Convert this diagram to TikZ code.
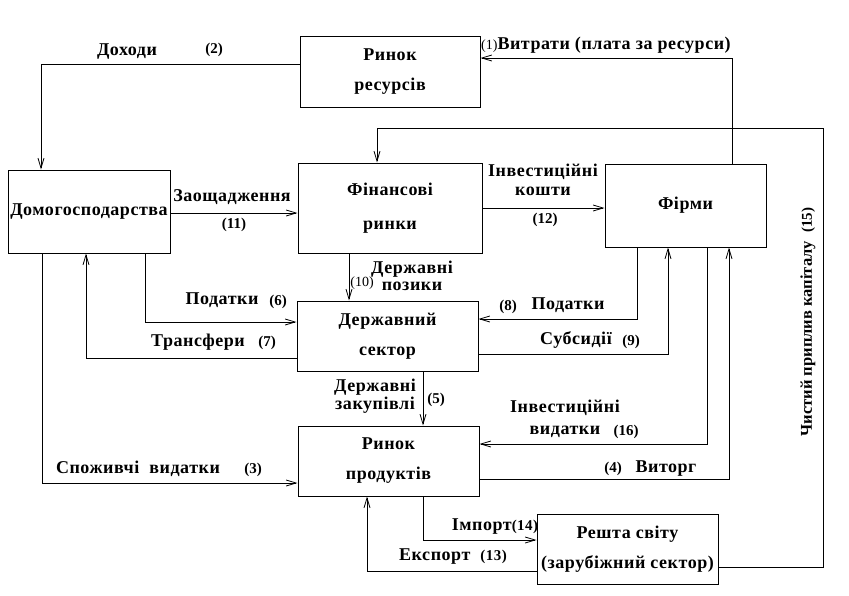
\documentclass[tikz,border=0pt]{standalone}
\usepackage{fontspec}
\setmainfont{Liberation Serif}
\usepackage{tikz}
\usetikzlibrary{positioning}
\usetikzlibrary{arrows.meta}

\tikzset{
	sector/.style = {draw, line width=1pt, align=center, inner sep=0pt,
	                 font=\bfseries\fontsize{18}{30}\selectfont\addfontfeatures{LetterSpace=3}},
	flow/.style   = {line width=1pt, -{Straight Barb[length=10pt, width=6pt, line width=0.8pt]}},
	lbl/.style    = {inner sep=0pt, align=center,
	                 font=\bfseries\fontsize{18}{22}\selectfont\addfontfeatures{LetterSpace=3}},
	num/.style    = {inner sep=0pt, font=\bfseries\fontsize{15}{17}\selectfont},
	thinnum/.style= {inner sep=0pt, font=\fontsize{14}{16}\selectfont}
}

\begin{document}
\begin{tikzpicture}[x=1pt, y=-1pt]
	\useasboundingbox (0,0) rectangle (849,595);

	% sectors
	\node (res)   [sector, minimum width=180pt, minimum height=71pt] at (390,71.5)   {Ринок\\ресурсів};
	\node (hh)    [sector, minimum width=162pt, minimum height=83pt] at (89,211.5)   {Домогосподарства};
	\node (fin)   [sector, minimum width=184pt, minimum height=90pt] at (390,208)    {Фінансові\\[4pt]ринки};
	\node (firms) [sector, minimum width=161pt, minimum height=83pt] at (685.5,205.5) {Фірми};
	\node (gov)   [sector, minimum width=181pt, minimum height=70pt] at (387.5,336)  {Державний\\сектор};
	\node (prod)  [sector, minimum width=181pt, minimum height=70pt] at (388.5,461)  {Ринок\\продуктів};
	\node (world) [sector, minimum width=181pt, minimum height=70pt] at (627.5,549)  {Решта світу\\(зарубіжний сектор)};

	% (1) vytraty
	\draw [flow] (firms.north -| 732,0) |- (res.east |- 0,58);
	\node (l1) [anchor=west, inner sep=0pt] at (481,45)
		{\fontsize{14}{16}\selectfont(1)\bfseries\fontsize{18}{20}\selectfont\addfontfeatures{LetterSpace=3}Витрати (плата за ресурси)};

	% (2) dokhody
	\draw [flow] (res.west |- 0,64) -| (hh.north -| 41,0);
	\node (l2) [lbl] at (127,52) {Доходи};
	\node (n2) [num] at (214,50) {(2)};

	% (3) spozhyvchi vydatky
	\draw [flow] (hh.south -| 42,0) |- (prod.west |- 0,483);
	\node (l3) [lbl] at (138,469) {Споживчі \ видатки};
	\node (n3) [num] at (253,470) {(3)};

	% (4) vytorh
	\draw [flow] (prod.east |- 0,479) -| (firms.south -| 729,0);
	\node (n4) [num] at (613,469) {(4)};
	\node (l4) [lbl] at (666,469) {Виторг};

	% (5) derzhavni zakupivli
	\draw [flow] (gov.south -| 423,0) -- (prod.north -| 423,0);
	\node (l5) [lbl] at (375,396) {Державні\\[-4pt]закупівлі};
	\node (n5) [num] at (436,400) {(5)};

	% (6) podatky
	\draw [flow] (hh.south -| 145,0) |- (gov.west |- 0,322);
	\node (l6) [lbl] at (222,300) {Податки};
	\node (n6) [num] at (278,302) {(6)};

	% (7) transfery
	\draw [flow] (gov.west |- 0,358) -| (hh.south -| 86,0);
	\node (l7) [lbl] at (198,342) {Трансфери};
	\node (n7) [num] at (267,343) {(7)};

	% (8) podatky
	\draw [flow] (firms.south -| 637,0) |- (gov.east |- 0,319);
	\node (n8) [num] at (508,307) {(8)};
	\node (l8) [lbl] at (568,305) {Податки};

	% (9) subsydii
	\draw [flow] (gov.east |- 0,354) -| (firms.south -| 668,0);
	\node (l9) [lbl] at (576,340) {Субсидії};
	\node (n9) [num] at (631,342) {(9)};

	% (10) derzhavni pozyky
	\draw [flow] (fin.south -| 349,0) -- (gov.north -| 349,0);
	\node (l10) [lbl] at (412,276) {Державні\\[-5pt]позики};
	\node (n10) [thinnum] at (362,283) {(10)};

	% (11) zaoshchadzhennia
	\draw [flow] (hh.east |- 0,213) -- (fin.west |- 0,213);
	\node (l11) [lbl] at (232,197) {Заощадження};
	\node (n11) [num] at (234,225) {(11)};

	% (12) investytsiini koshty
	\draw [flow] (fin.east |- 0,208) -- (firms.west |- 0,208);
	\node (l12) [lbl] at (543,180) {Інвестиційні\\[-3pt]кошти};
	\node (n12) [num] at (545,220) {(12)};

	% (13) eksport
	\draw [flow] (world.west |- 0,571) -| (prod.south -| 367,0);
	\node (l13) [lbl] at (453,557) {Експорт \ \bfseries\fontsize{15}{17}\selectfont(13)};

	% (14) import
	\draw [flow] (prod.south -| 423,0) |- (world.west |- 0,540);
	\node (l14) [lbl] at (495,527) {Імпорт\bfseries\fontsize{15}{17}\selectfont(14)};

	% (15) chystyi pryplyv kapitalu
	\draw [flow] (world.east |- 0,567) -| (823,128) -| (fin.north -| 377,0);
	\node (l15) [inner sep=0pt, rotate=90, font=\bfseries\fontsize{16.5}{18}\selectfont] at (808,322)
		{Чистий приплив капіталу \ \fontsize{15}{17}\selectfont(15)};

	% (16) investytsiini vydatky
	\draw [flow] (firms.south -| 707,0) |- (prod.east |- 0,444);
	\node (l16) [lbl] at (565,408) {Інвестиційні};
	\node (l16b) [lbl] at (565,432) {видатки};
	\node (n16) [num] at (626,432) {(16)};
\end{tikzpicture}
\end{document}
